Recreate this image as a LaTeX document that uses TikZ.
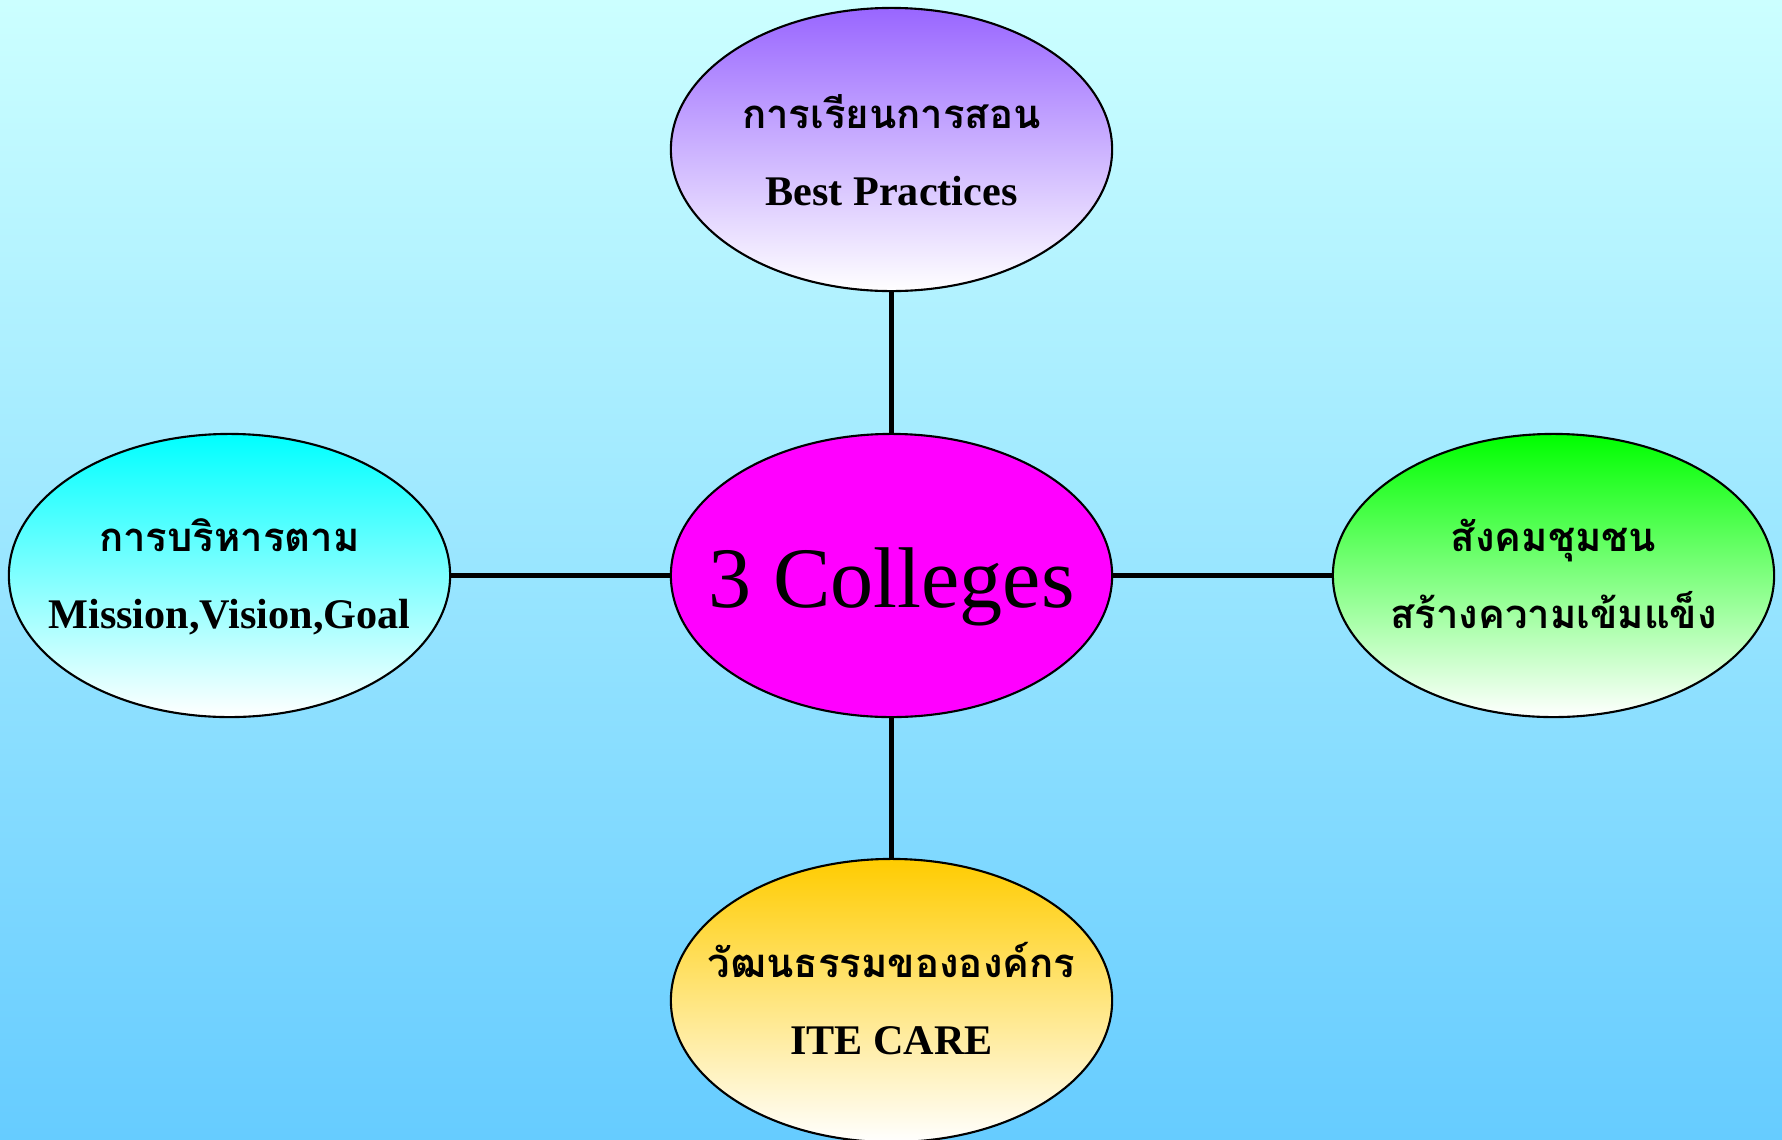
\documentclass[tikz,border=0pt]{standalone}
\usepackage{fontspec}
\setmainfont{Liberation Serif}
\newfontfamily\thaifont[Script=Thai]{Loma}
\usetikzlibrary{shapes.geometric}
\usetikzlibrary{positioning}

\definecolor{skytop}{RGB}{204,255,255}
\definecolor{skybot}{RGB}{102,204,255}
\definecolor{hubpink}{RGB}{255,0,255}
\definecolor{lilac}{RGB}{153,102,255}
\definecolor{aqua}{RGB}{0,255,255}
\definecolor{leaf}{RGB}{0,255,0}
\definecolor{gold}{RGB}{255,204,0}

\tikzset{
  bubble/.style={ellipse,draw,line width=0.6pt,minimum width=4.41cm,minimum height=2.83cm,inner sep=0pt},
  thaitxt/.style={anchor=base,font=\thaifont\bfseries\fontsize{11.4}{13}\selectfont},
  engtxt/.style={anchor=base,font=\bfseries\fontsize{12}{14}\selectfont}
}

\begin{document}
\begin{tikzpicture}[x=0.01cm,y=-0.01cm,every edge/.style={draw,line width=1.15pt}]

    \useasboundingbox (0,0) rectangle (1782,1139);
    \clip (0,0) rectangle (1782,1139);
    \shade[top color=skytop,bottom color=skybot] (0,0) rectangle (1782,1139);

    \node[bubble,fill=hubpink]                        (c) at (891.5, 575.5)  {};
    \node[bubble,top color=lilac,bottom color=white]  (t) at (891.5, 149.5)  {};
    \node[bubble,top color=aqua,bottom color=white]   (l) at (229.5, 575.5)  {};
    \node[bubble,top color=leaf,bottom color=white]   (r) at (1553.5, 575.5) {};
    \node[bubble,top color=gold,bottom color=white]   (b) at (891.5, 1000.5) {};

    \draw (c) edge (t);
    \draw (c) edge (l);
    \draw (c) edge (r);
    \draw (c) edge (b);

    \node[anchor=base,font=\fontsize{24.5}{28}\selectfont] (ct) at ([yshift=-0.315cm]c.center) {3 Colleges};

    \node[thaitxt] (t1) at ([yshift=0.21cm]t.center)   {การเรียนการสอน};
    \node[engtxt]  (t2) at ([yshift=-0.56cm]t.center)  {Best Practices};
    \node[thaitxt] (l1) at ([yshift=0.235cm]l.center)  {การบริหารตาม};
    \node[engtxt]  (l2) at ([yshift=-0.525cm]l.center) {Mission,Vision,Goal};
    \node[thaitxt] (r1) at ([yshift=0.235cm]r.center)  {สังคมชุมชน};
    \node[thaitxt] (r2) at ([yshift=-0.525cm]r.center) {สร้างความเข้มแข็ง};
    \node[thaitxt] (b1) at ([yshift=0.235cm]b.center)  {วัฒนธรรมขององค์กร};
    \node[engtxt]  (b2) at ([yshift=-0.535cm]b.center) {ITE CARE};
  \end{tikzpicture}
\end{document}
